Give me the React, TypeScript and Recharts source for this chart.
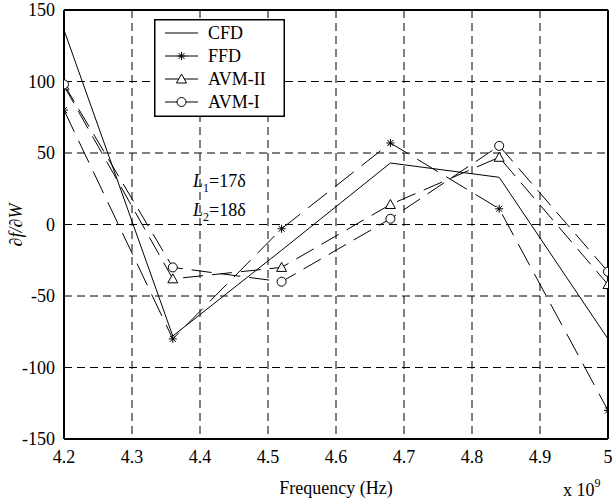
import React from 'react';
import { LineChart, Line, XAxis, YAxis, CartesianGrid, ReferenceLine } from 'recharts';

const frequencies = [4.2, 4.36, 4.52, 4.68, 4.84, 5.0];
const cfd = [136, -78, -18, 43, 33, -80];
const ffd = [80, -80, -3, 57, 11, -130];
const avm2 = [97, -38, -30, 14, 47, -42];
const avm1 = [98, -30, -40, 4, 55, -33];
const xTicks = [4.2, 4.3, 4.4, 4.5, 4.6, 4.7, 4.8, 4.9, 5];
const yTicks = [-150, -100, -50, 0, 50, 100, 150];
const seriesNames = ['CFD', 'FFD', 'AVM-II', 'AVM-I'];

const data = frequencies.map((f, i) => ({ f, cfd: cfd[i], ffd: ffd[i], avm2: avm2[i], avm1: avm1[i] }));

const FONT = '"Liberation Serif", "Times New Roman", serif';

const Star = (cx: number, cy: number, k?: any) => (
  <g key={k} stroke="#000" strokeWidth={1}>
    <line x1={cx - 4} y1={cy} x2={cx + 4} y2={cy} />
    <line x1={cx} y1={cy - 4} x2={cx} y2={cy + 4} />
    <line x1={cx - 3} y1={cy - 3} x2={cx + 3} y2={cy + 3} />
    <line x1={cx - 3} y1={cy + 3} x2={cx + 3} y2={cy - 3} />
  </g>
);
const Tri = (cx: number, cy: number, k?: any) => (
  <polygon key={k} points={`${cx},${cy - 5} ${cx - 5},${cy + 4} ${cx + 5},${cy + 4}`} fill="#fff" stroke="#000" strokeWidth={1} />
);
const Circ = (cx: number, cy: number, k?: any) => (
  <circle key={k} cx={cx} cy={cy} r={4.5} fill="#fff" stroke="#000" strokeWidth={1} />
);

const starDot = (p: any) => Star(p.cx, p.cy, `s${p.index}`);
const triDot = (p: any) => Tri(p.cx, p.cy, `t${p.index}`);
const circDot = (p: any) => Circ(p.cx, p.cy, `c${p.index}`);

const XTick = (p: any) => {
  const v = p.payload.value;
  return (
    <text x={p.x} y={p.y + 16} textAnchor="middle" style={{ fontFamily: FONT, fontSize: 18 }} fill="#000">
      {String(Math.round(v * 10) / 10)}
    </text>
  );
};
const YTick = (p: any) => (
  <text x={p.x - 1} y={p.y + 6} textAnchor="end" style={{ fontFamily: FONT, fontSize: 18 }} fill="#000">
    {String(p.payload.value)}
  </text>
);

const LegendBox = () => {
  const markers = [null, Star, Tri, Circ];
  return (
    <svg width={131} height={98} style={{ display: 'block' }}>
      <rect x={0.75} y={0.75} width={129.5} height={96.5} fill="#fff" stroke="#000" strokeWidth={1.5} />
      {seriesNames.map((n, i) => {
        const y = 14 + i * 23;
        const m = markers[i];
        return (
          <g key={n}>
            <line x1={11} y1={y} x2={44} y2={y} stroke="#000" strokeWidth={1} />
            {m ? m(27.5, y) : null}
            <text x={54} y={y + 6} style={{ fontFamily: FONT, fontSize: 18 }} fill="#000">{n}</text>
          </g>
        );
      })}
    </svg>
  );
};

export default function App() {
  return (
    <div style={{ position: 'absolute', left: 0, top: 0, width: 613, height: 504, background: '#fff', fontFamily: FONT }}>
      <LineChart width={613} height={504} data={data} margin={{ top: 10, right: 5, bottom: 0, left: 0 }}>
        <CartesianGrid stroke="#000" strokeDasharray="8 5" strokeWidth={1} />
        <XAxis
          dataKey="f"
          type="number"
          domain={[4.2, 5]}
          ticks={xTicks}
          height={65}
          stroke="#000"
          strokeWidth={2}
          tickLine={false}
          tick={<XTick />}
          interval={0}
          allowDataOverflow
        />
        <YAxis
          type="number"
          domain={[-150, 150]}
          ticks={yTicks}
          width={64}
          stroke="#000"
          strokeWidth={2}
          tickLine={false}
          tick={<YTick />}
          interval={0}
          allowDataOverflow
        />
        <ReferenceLine y={150} stroke="#000" strokeWidth={2} />
        <ReferenceLine x={5} stroke="#000" strokeWidth={2} />
        <Line dataKey="cfd" stroke="#000" strokeWidth={1} dot={false} isAnimationActive={false} />
        <Line dataKey="ffd" stroke="#000" strokeWidth={1} strokeDasharray="24 10" dot={starDot} isAnimationActive={false} />
        <Line dataKey="avm2" stroke="#000" strokeWidth={1} strokeDasharray="20 9" dot={triDot} isAnimationActive={false} />
        <Line dataKey="avm1" stroke="#000" strokeWidth={1} strokeDasharray="20 9" dot={circDot} isAnimationActive={false} />
      </LineChart>
      <div style={{ position: 'absolute', left: 154, top: 19 }}>
        <LegendBox />
      </div>
      <div style={{ position: 'absolute', left: 193, top: 170, fontSize: 18, lineHeight: '22px', color: '#000' }}>
        <div><i>L</i><sub style={{ fontSize: 12 }}>1</sub>=17δ</div>
        <div><i>L</i><sub style={{ fontSize: 12 }}>2</sub>=18δ</div>
      </div>
      <div style={{ position: 'absolute', left: 16, top: 225, transform: 'translate(-50%, -50%) rotate(-90deg)', fontSize: 18, fontStyle: 'italic', whiteSpace: 'nowrap', color: '#000' }}>
        ∂f/∂W
      </div>
      <div style={{ position: 'absolute', left: 336, top: 488, transform: 'translate(-50%, -50%)', fontSize: 18, whiteSpace: 'nowrap', color: '#000' }}>
        Frequency (Hz)
      </div>
      <div style={{ position: 'absolute', left: 563, top: 478, fontSize: 18, whiteSpace: 'nowrap', color: '#000' }}>
        x 10<sup style={{ fontSize: 12, position: 'relative', top: -2 }}>9</sup>
      </div>
    </div>
  );
}
